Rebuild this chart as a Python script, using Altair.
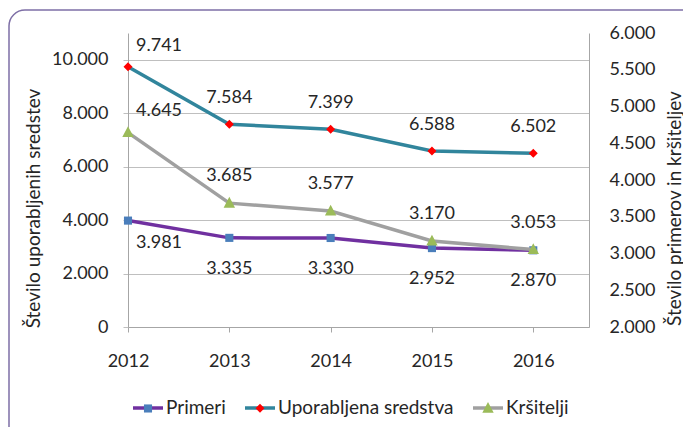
import altair as alt
import pandas as pd

years = [2012, 2013, 2014, 2015, 2016]
series_names = ["Primeri", "Uporabljena sredstva", "Kršitelji"]
primeri = [3981, 3335, 3330, 2952, 2870]
sredstva = [9741, 7584, 7399, 6588, 6502]
krsitelji = [4645, 3685, 3577, 3170, 3053]
left_ticks = [0, 2000, 4000, 6000, 8000, 10000]
right_ticks = [2000, 2500, 3000, 3500, 4000, 4500, 5000, 5500, 6000]

line_colors = ["#7030a0", "#31859c", "#a0a0a0"]
marker_colors = ["#4a7ebb", "#ff0000", "#9bbb59"]
SPAN = "M-1,0L-1,0M1,0L1,0"
marker_shapes = [
    SPAN + "M-0.27,-0.27H0.27V0.27H-0.27Z",
    SPAN + "M0,-0.3L0.3,0L0,0.3L-0.3,0Z",
    SPAN + "M0,-0.42L0.38,0.3L-0.38,0.3Z",
]

rows = []
for name, vals in zip(series_names, [primeri, sredstva, krsitelji]):
    for yr, v in zip(years, vals):
        rows.append({"year": yr, "series": name, "value": v})
df = pd.DataFrame(rows)
mk_names = [n + " " for n in series_names]

FONT = "Lato"
TXT = "#262626"
AX = "#a6a6a6"
GRID = "#bfbfbf"
FMT = "replace(format(datum.value, ','), ',', '.')"
LX, LY = 3, 358

x_enc = alt.X(
    "year:Q",
    scale=alt.Scale(domain=[2012, 2016.55], nice=False, zero=False),
    axis=alt.Axis(values=years, format="d", title=None, grid=False, labelFont=FONT,
                  labelFontSize=18, labelColor=TXT, labelPadding=20, tickSize=5,
                  tickColor=AX, domainColor=AX, labelFlush=False),
)
yl_enc = alt.Y(
    "value:Q",
    scale=alt.Scale(domain=[0, 11000], nice=False, zero=True),
    axis=alt.Axis(orient="left", values=left_ticks, labelExpr=FMT, grid=True, gridColor=GRID,
                  domainColor=AX, tickColor=GRID, tickSize=5, labelPadding=15, labelFont=FONT,
                  labelFontSize=18, labelColor=TXT, labelFlush=False,
                  title="Število uporabljenih sredstev", titleFont=FONT, titleFontSize=19,
                  titleFontWeight="normal", titleColor=TXT, titleAngle=270, titleX=-89,
                  titleY=175, titleAlign="center", titleBaseline="alphabetic"),
)
yr_enc = alt.Y(
    "value:Q",
    scale=alt.Scale(domain=[2000, 6000], nice=False, zero=False),
    axis=alt.Axis(orient="right", values=right_ticks, labelExpr=FMT, grid=False,
                  domainColor=AX, ticks=False, labelPadding=20, labelFont=FONT,
                  labelFontSize=18, labelColor=TXT, labelFlush=False,
                  title="Število primerov in kršiteljev", titleFont=FONT, titleFontSize=19,
                  titleFontWeight="normal", titleColor=TXT, titleAngle=270, titleX=91,
                  titleY=175, titleAlign="center", titleBaseline="alphabetic"),
)

common = dict(title=None, orient="none", legendX=LX, legendY=LY, direction="horizontal",
              symbolSize=900, labelFont=FONT, labelFontSize=19, labelColor=TXT,
              labelOffset=1, columnPadding=12, padding=0, symbolStrokeWidth=3.5,
              labelLimit=400)

stroke_enc = alt.Stroke("series:N", scale=alt.Scale(domain=series_names, range=line_colors),
                        legend=alt.Legend(symbolType="stroke", **common))
mk_legend = alt.Legend(symbolStrokeColor="transparent", labelOpacity=0,
                       labelExpr="trim(datum.label)", **common)
fill_enc = alt.Fill("mk:N", scale=alt.Scale(domain=mk_names, range=marker_colors), legend=mk_legend)
shape_enc = alt.Shape("mk:N", scale=alt.Scale(domain=mk_names, range=marker_shapes), legend=mk_legend)

base = alt.Chart(df)
left_pred = alt.FieldOneOfPredicate(field="series", oneOf=["Primeri", "Uporabljena sredstva"])
right_pred = alt.FieldEqualPredicate(field="series", equal="Kršitelji")


def lines(pred, y):
    return base.transform_filter(pred).mark_line(strokeWidth=3.5).encode(x=x_enc, y=y, stroke=stroke_enc)


def points(pred, y):
    return (base.transform_filter(pred).transform_calculate(mk="datum.series + ' '")
            .mark_point(filled=True, size=900, opacity=1, strokeWidth=0)
            .encode(x=x_enc, y=y, fill=fill_enc, shape=shape_enc))


def labels(name, first, y, dx, dy):
    cond = "datum.year == 2012" if first else "datum.year != 2012"
    return (base.transform_filter(alt.FieldEqualPredicate(field="series", equal=name))
            .transform_filter(cond)
            .transform_calculate(label=FMT)
            .mark_text(font=FONT, fontSize=18, color=TXT, dx=dx, dy=dy, baseline="middle")
            .encode(x=x_enc, y=y, text="label:N"))


frame = alt.Chart(pd.DataFrame({"f": [0]})).mark_rect(
    fill="#ffffff", fillOpacity=0, stroke="#7e6fa6", strokeWidth=1.5, cornerRadius=16
).encode(x=alt.value(-119), x2=alt.value(575), y=alt.value(-23), y2=alt.value(420))

left = alt.layer(
    lines(left_pred, yl_enc),
    points(left_pred, yl_enc),
    labels("Primeri", False, yl_enc, 0, 31),
    labels("Primeri", True, yl_enc, 31, 22),
    labels("Uporabljena sredstva", False, yl_enc, 0, -26),
    labels("Uporabljena sredstva", True, yl_enc, 31, -21),
)
right = alt.layer(
    lines(right_pred, yr_enc),
    points(right_pred, yr_enc),
    labels("Kršitelji", False, yr_enc, 0, -27),
    labels("Kršitelji", True, yr_enc, 31, -22),
)

chart = (
    alt.layer(frame, left, right)
    .resolve_scale(y="independent")
    .properties(width=461, height=294,
                padding={"left": 120, "top": 25, "right": 94, "bottom": 100},
                autosize=alt.AutoSizeParams(type="none"))
    .configure_view(strokeWidth=0)
)

chart.save("out.html", embed_options={"renderer": "svg", "actions": False})
